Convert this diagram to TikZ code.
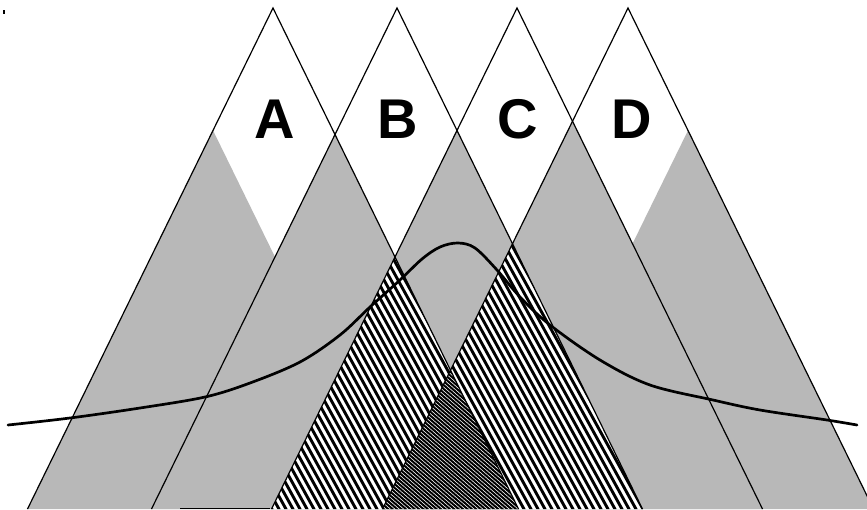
\documentclass[tikz,border=0pt]{standalone}
\usepackage{fontspec}
\setmainfont{Liberation Sans}
\begin{document}
\begin{tikzpicture}[x=1pt,y=-1pt,
  edge/.style={line width=1.2pt,line join=miter},
  greyfill/.style={fill=black!28},
  hatchline/.style={line width=2.9pt},
  denseline/.style={line width=2.0pt},
  curve/.style={line width=2.7pt,line cap=round,line join=round},
  letter/.style={font=\fontsize{56}{56}\selectfont\bfseries,anchor=base,inner sep=0pt}]
\useasboundingbox (0,0) rectangle (867,509);
\fill[white] (0,0) rectangle (867,509);
% apexes and base corners of the triangles (L and R are not drawn)
\coordinate (La) at (153,8);   \coordinate (Ll) at (-92.5,509); \coordinate (Lr) at (398.5,509);
\coordinate (Aa) at (273,8);   \coordinate (Al) at (27.5,509);  \coordinate (Ar) at (518.5,509);
\coordinate (Ba) at (397,8);   \coordinate (Bl) at (151.5,509); \coordinate (Br) at (642.5,509);
\coordinate (Ca) at (517,8);   \coordinate (Cl) at (271.5,509); \coordinate (Cr) at (762.5,509);
\coordinate (Da) at (628,8);   \coordinate (Dl) at (382.5,509); \coordinate (Dr) at (873.5,509);
\coordinate (Ra) at (748,8);   \coordinate (Rl) at (502.5,509); \coordinate (Rr) at (993.5,509);
% pairwise crossings
\coordinate (LA) at (intersection of La--Lr and Aa--Al);
\coordinate (AB) at (intersection of Aa--Ar and Ba--Bl);
\coordinate (BC) at (intersection of Ba--Br and Ca--Cl);
\coordinate (CD) at (intersection of Ca--Cr and Da--Dl);
\coordinate (DR) at (intersection of Da--Dr and Ra--Rl);
\coordinate (AC) at (intersection of Aa--Ar and Ca--Cl);
\coordinate (BD) at (intersection of Ba--Br and Da--Dl);
\coordinate (AD) at (intersection of Aa--Ar and Da--Dl);
% grey overlaps
\fill[greyfill] (LA) -- (Al) -- (Lr) -- cycle;
\fill[greyfill] (AB) -- (Bl) -- (Ar) -- cycle;
\fill[greyfill] (BC) -- (Cl) -- (Br) -- cycle;
\fill[greyfill] (CD) -- (Dl) -- (Cr) -- cycle;
\fill[greyfill] (DR) -- (Rl) -- (Dr) -- cycle;
% hatched triple overlaps
\begin{scope}
  \clip (AC) -- (Cl) -- (Ar) -- cycle (BD) -- (Dl) -- (Br) -- cycle;
  \fill[white] (0,0) rectangle (867,509);
  \foreach \i in {0,...,62} {
    \draw[hatchline] ({250+7*\i},520) -- ({250+7*\i-0.55*300},220);
  }
\end{scope}
% densely hatched fourfold overlap
\begin{scope}
  \clip (AD) -- (Dl) -- (Ar) -- cycle;
  \fill[white] (0,0) rectangle (867,509);
  \foreach \i in {0,...,75} {
    \draw[denseline] ({370+4.4*\i},520) -- ({370+4.4*\i-1.15*200},320);
  }
\end{scope}
% triangle outlines
\draw[edge] (Al) -- (Aa) -- (Ar);
\draw[edge] (Bl) -- (Ba) -- (Br);
\draw[edge] (Cl) -- (Ca) -- (Cr);
\draw[edge] (Dl) -- (Da) -- (Dr);
% curve
\draw[curve] plot[smooth,tension=0.55] coordinates {
  (8,425) (70,418) (140,408) (205,397) (250,383) (300,362) (340,335)
  (370,307) (400,280) (422,259) (440,247) (458,243) (475,248) (497,270)
  (520,297) (550,325) (600,360) (650,385) (713,400) (760,410) (827,420) (857,425)};
% labels
\node[letter] (la) at (275,138) {A};
\node[letter] (lb) at (398,138) {B};
\node[letter] (lc) at (518,138) {C};
\node[letter] (ld) at (632,138) {D};
% small marks of the scan
\fill (3,10) rectangle (5,14);
\draw[line width=1.2pt] (180,508.4) -- (270,508.4);
\end{tikzpicture}
\end{document}
